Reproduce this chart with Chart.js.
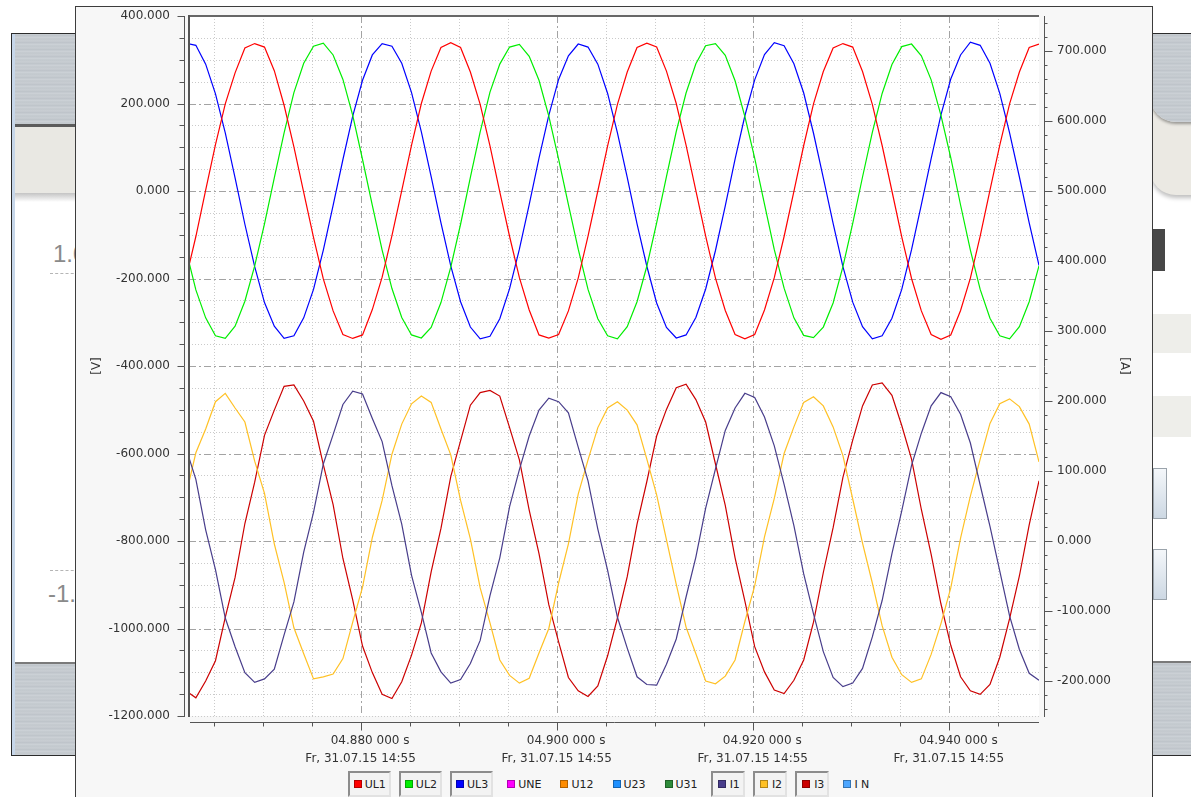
<!DOCTYPE html>
<html>
<head>
<meta charset="utf-8">
<title>Oszilloskop UL / I</title>
<script src="https://cdn.jsdelivr.net/npm/chart.js@4.4.1/dist/chart.umd.min.js"></script>
<style>
  html, body { margin: 0; padding: 0; }
  body { width: 1191px; height: 797px; overflow: hidden; background: #fff; position: relative; font-family: 'DejaVu Sans', sans-serif; }
  .metal { background: repeating-linear-gradient(180deg, #c8cdd2 0px, #bcc2c8 2px, #ced3d8 3px, #c2c8cd 5px, #c9ced3 7px); }
  #bgLeft { position: absolute; left: 11px; top: 33px; width: 90px; height: 721px; border: 1px solid #2b2b2b; background: #fff; overflow: hidden; }
  #bgRight { position: absolute; left: 1150px; top: 33px; width: 60px; height: 721px; border-top: 1px solid #2b2b2b; border-bottom: 1px solid #2b2b2b; background: #fff; overflow: hidden; }
  .abs { position: absolute; }
  .ghost { position: absolute; font: 24px 'Liberation Sans', sans-serif; color: #8a8a8a; }
  #panel { position: absolute; left: 75px; top: 6px; width: 1076px; height: 795px; border: 1px solid #3c3c3c; border-bottom: none; background: #f7f7f7; }
  #scope { position: absolute; left: 0; top: 0; }
  #legend { position: absolute; left: 0; top: 764px; width: 1070px; display: flex; justify-content: center; }
  .item { display: flex; align-items: center; height: 22px; padding: 0 3px 0 4px; border: 2px solid transparent; margin: 0 4px; font: 11px 'DejaVu Sans', sans-serif; color: #222; }
  .item.on { border-color: #8c8c8c #e2e2e2 #e2e2e2 #8c8c8c; background: #f3f3f3; }
  .item.short { padding: 0 3px 0 5px; }
  .sw { width: 6px; height: 6px; border: 1px solid rgba(0,0,0,0.3); margin-right: 3px; }
  .short .sw { margin-right: 4px; }
</style>
</head>
<body>

<div id="bgLeft">
  <div class="abs" style="left:0;top:0;width:3px;height:100%;background:#c6d6e9"></div>
  <div class="abs metal" style="left:3px;top:0;width:100%;height:90px"></div>
  <div class="abs" style="left:3px;top:90px;width:100%;height:3px;background:#5c5c5c"></div>
  <div class="abs" style="left:3px;top:93px;width:100%;height:66px;background:#e9e8e3"></div>
  <div class="abs" style="left:3px;top:159px;width:100%;height:9px;background:linear-gradient(#c4c4c4,#fff)"></div>
  <div class="ghost" style="left:41px;top:206px">1.0</div>
  <div class="abs" style="left:38px;top:239px;width:60px;border-top:1px dashed #b5b5b5"></div>
  <div class="abs" style="left:38px;top:536px;width:60px;border-top:1px dashed #b5b5b5"></div>
  <div class="ghost" style="left:36px;top:546px">-1.0</div>
  <div class="abs" style="left:3px;top:628px;width:100%;height:2px;background:#7a7a7a"></div>
  <div class="abs metal" style="left:3px;top:630px;width:100%;height:91px"></div>
</div>

<div id="bgRight">
  <div class="abs" style="left:0;top:0;width:100%;height:161px;background:#ebe9e3;border-bottom-left-radius:26px;box-shadow:0 3px 4px rgba(0,0,0,0.25)"></div>
  <div class="abs metal" style="left:0;top:0;width:100%;height:88px;border-bottom-left-radius:26px;box-shadow:0 2px 3px rgba(0,0,0,0.35)"></div>
  <div class="abs" style="left:3px;top:195px;width:12px;height:42px;background:#474747"></div>
  <div class="abs" style="left:0;top:280px;width:100%;height:39px;background:#eeeeea"></div>
  <div class="abs" style="left:0;top:362px;width:100%;height:41px;background:#eeeeea"></div>
  <div class="abs" style="left:3px;top:434px;width:12px;height:49px;border:1px solid #9aa3ab;background:linear-gradient(#f4f7fa,#cdd8e3)"></div>
  <div class="abs" style="left:3px;top:515px;width:12px;height:49px;border:1px solid #9aa3ab;background:linear-gradient(#f4f7fa,#cdd8e3)"></div>
  <div class="abs" style="left:0;top:627px;width:100%;height:2px;background:#7a7a7a"></div>
  <div class="abs metal" style="left:0;top:629px;width:100%;height:92px"></div>
</div>

<div id="panel">
  <canvas id="scope" width="1076" height="763"></canvas>
  <div id="legend"></div>
</div>

<script>
// sample clock: one reading per millisecond
const t0 = 4.8622;
const dt = 0.001;

// phase voltages [V]
const ul1 = [
  -199, -104, 2, 106, 199, 270, 327, 337, 329, 275,
  196, 101, -3, -106, -201, -274, -328, -337, -329, -271,
  -197, -102, 1, 105, 200, 274, 328, 339, 328, 272,
  198, 103, -2, -104, -198, -272, -329, -336, -328, -274,
  -199, -103, 0, 103, 198, 272, 328, 338, 329, 274,
  200, 105, 1, -103, -199, -273, -328, -338, -328, -272,
  -198, -104, -1, 104, 199, 273, 327, 337, 329, 273,
  198, 104, 0, -105, -200, -274, -328, -339, -329, -273,
  -199, -103, 2, 105, 199, 272, 328, 336, 329
];
const ul2 = [
  -136, -226, -290, -331, -337, -309, -252, -171, -75, 30,
  133, 225, 292, 331, 338, 311, 255, 173, 72, -33,
  -135, -223, -289, -329, -336, -312, -255, -174, -76, 31,
  135, 226, 290, 329, 335, 308, 253, 171, 73, -31,
  -133, -225, -292, -331, -338, -310, -253, -172, -73, 33,
  136, 224, 291, 332, 337, 310, 252, 170, 75, -30,
  -134, -222, -290, -330, -335, -311, -256, -173, -74, 32,
  134, 223, 289, 330, 336, 309, 254, 173, 76, -32,
  -135, -225, -291, -331, -338, -310, -253, -171, -75
];
const ul3 = [
  338, 333, 290, 222, 133, 30, -76, -173, -255, -309,
  -337, -331, -290, -225, -135, -33, 72, 171, 253, 311,
  337, 331, 292, 225, 135, 33, -73, -171, -253, -311,
  -338, -332, -292, -223, -133, -31, 75, 173, 255, 309,
  336, 329, 290, 223, 133, 31, -75, -172, -256, -312,
  -336, -329, -289, -224, -136, -34, 73, 172, 254, 312,
  339, 332, 291, 224, 132, 30, -74, -173, -254, -310,
  -338, -331, -291, -225, -134, -31, 74, 174, 256, 311,
  340, 333, 292, 223, 133, 32, -73, -170, -252
];

// phase currents [A]
const i1 = [
  132, 88, 16, -41, -110, -151, -188, -202, -197, -183,
  -134, -87, -16, 41, 110, 152, 195, 214, 210, 175,
  142, 79, 24, -49, -102, -160, -187, -203, -198, -175,
  -142, -78, -24, 49, 102, 150, 187, 204, 199, 183,
  134, 86, 17, -42, -109, -153, -194, -205, -206, -176,
  -140, -80, -23, 47, 103, 158, 190, 211, 205, 177,
  136, 81, 22, -47, -104, -158, -195, -208, -203, -182,
  -137, -85, -18, 43, 108, 154, 193, 212, 206, 181,
  140, 80, 21, -43, -107, -155, -189, -199, -194
];
const i2 = [
  66, 126, 160, 199, 211, 190, 170, 114, 68, -4,
  -59, -124, -161, -197, -194, -190, -168, -116, -66, 5,
  58, 124, 167, 196, 207, 198, 160, 123, 58, 3,
  -67, -117, -170, -192, -203, -196, -160, -125, -60, -4,
  67, 116, 162, 190, 199, 187, 166, 117, 66, 2,
  -62, -123, -161, -200, -204, -193, -170, -115, -64, 6,
  61, 125, 163, 198, 206, 193, 163, 122, 60, -3,
  -60, -121, -166, -191, -202, -197, -162, -118, -67, 4,
  64, 117, 168, 196, 203, 192, 167, 113, 66
];
const i3 = [
  -214, -224, -200, -171, -109, -52, 25, 84, 151, 187,
  221, 223, 200, 171, 109, 52, -25, -84, -150, -188,
  -219, -225, -201, -163, -117, -44, 18, 92, 143, 194,
  212, 215, 207, 162, 116, 44, -18, -91, -144, -195,
  -214, -222, -207, -164, -110, -51, 24, 85, 150, 188,
  219, 224, 202, 170, 110, 51, -24, -86, -151, -187,
  -213, -218, -199, -170, -116, -45, 19, 91, 144, 193,
  223, 226, 208, 165, 117, 45, -19, -90, -149, -194,
  -214, -219, -205, -166, -111, -50, 23, 86, 148
];

const times = ul1.map((_, k) => +(t0 + k * dt).toFixed(4));

// axis labels
const voltTicks = [400, 200, 0, -200, -400, -600, -800, -1000, -1200];
const ampTicks = [700, 600, 500, 400, 300, 200, 100, 0, -100, -200];
const timeTicks = [4.88, 4.90, 4.92, 4.94];
const timeLabels = [
  ['     04.880 000 s', 'Fr, 31.07.15 14:55'],
  ['     04.900 000 s', 'Fr, 31.07.15 14:55'],
  ['     04.920 000 s', 'Fr, 31.07.15 14:55'],
  ['     04.940 000 s', 'Fr, 31.07.15 14:55']
];

// legend
const legendNames = ['UL1', 'UL2', 'UL3', 'UNE', 'U12', 'U23', 'U31', 'I1', 'I2', 'I3', 'I N'];
const legendColors = ['#ff0000', '#00ee00', '#0000ff', '#ff00ff', '#ff8c00', '#1e90ff', '#2e8b3a', '#483d8b', '#ffc125', '#cc0000', '#4da6ff'];
const legendActive = [true, true, true, false, false, false, false, true, true, true, false];

const labelFont = { family: 'DejaVu Sans', size: 12 };

function pts(values) {
    return values.map((v, k) => ({ x: times[k], y: v }));
}

function trace(name, values, axis) {
    const color = legendColors[legendNames.indexOf(name)];
    return {
        label: name,
        data: pts(values),
        yAxisID: axis,
        borderColor: color,
        backgroundColor: color,
        borderWidth: 1.2,
        pointRadius: 0,
        tension: 0
    };
}

// value axes: fixed width, no extra room above/below for the end labels
function fixVertical(s) {
    s.width = 113;
    s.paddingTop = 8;
    s.paddingBottom = 8;
}

// grid, frame and axis lines the way the scope draws them
const scopeFrame = {
    id: 'scopeFrame',
    beforeDraw(chart) {
        const { ctx, chartArea: a } = chart;
        ctx.save();
        ctx.fillStyle = '#ffffff';
        ctx.fillRect(a.left, a.top, a.right - a.left, a.bottom - a.top);
        ctx.restore();
    },
    beforeDatasetsDraw(chart) {
        const { ctx, chartArea: a, scales } = chart;
        ctx.save();
        ctx.lineWidth = 1;
        for (let v = -1200; v < 400; v += 50) {
            const y = Math.round(scales.yV.getPixelForValue(v)) + 0.5;
            const major = v % 200 === 0 && v !== -1200;
            ctx.setLineDash(major ? [7, 3, 2, 3] : [1, 2]);
            ctx.strokeStyle = major ? '#a3a3a3' : '#cacaca';
            ctx.beginPath();
            ctx.moveTo(a.left, y);
            ctx.lineTo(a.right, y);
            ctx.stroke();
        }
        for (let ms = 4865; ms < 4950; ms += 5) {
            const x = Math.round(scales.x.getPixelForValue(ms / 1000)) + 0.5;
            if (x > a.right) break;
            const major = ms % 20 === 0;
            ctx.setLineDash(major ? [7, 3, 2, 3] : [1, 2]);
            ctx.strokeStyle = major ? '#a3a3a3' : '#cacaca';
            ctx.beginPath();
            ctx.moveTo(x, a.top);
            ctx.lineTo(x, a.bottom);
            ctx.stroke();
        }
        ctx.restore();
    },
    afterDatasetsDraw(chart) {
        const { ctx, chartArea: a, scales } = chart;
        ctx.save();
        // plot frame (top + left)
        ctx.fillStyle = '#676767';
        ctx.fillRect(a.left, a.top - 1, a.right - a.left, 2);
        ctx.fillStyle = '#555';
        ctx.fillRect(a.left - 1, a.top - 1, 2, a.bottom - a.top + 2);

        ctx.strokeStyle = '#555';
        ctx.lineWidth = 1;
        ctx.beginPath();
        // left axis [V]
        const xl = a.left - 4.5;
        ctx.moveTo(xl, a.top);
        ctx.lineTo(xl, a.bottom + 1);
        for (let v = -1200; v <= 400; v += 50) {
            const y = Math.round(scales.yV.getPixelForValue(v)) + 0.5;
            ctx.moveTo(xl - (v % 200 === 0 ? 7 : 5), y);
            ctx.lineTo(xl, y);
        }
        // right axis [A]
        const xr = a.right + 5.5;
        ctx.moveTo(xr, a.top);
        ctx.lineTo(xr, a.bottom + 1);
        for (let v = -240; v <= 740; v += 20) {
            const y = Math.round(scales.yA.getPixelForValue(v)) + 0.5;
            ctx.moveTo(xr, y);
            ctx.lineTo(xr + (v % 100 === 0 ? 8 : 3), y);
        }
        // time axis
        const yb = a.bottom + 6.5;
        ctx.moveTo(a.left + 1, yb);
        ctx.lineTo(a.right, yb);
        for (let ms = 4865; ms < 4950; ms += 5) {
            const x = Math.round(scales.x.getPixelForValue(ms / 1000)) + 0.5;
            if (x > a.right) break;
            ctx.moveTo(x, yb);
            ctx.lineTo(x, yb + (ms % 20 === 0 ? 8 : 4));
        }
        ctx.stroke();
        ctx.restore();
    }
};

new Chart(document.getElementById('scope'), {
    type: 'line',
    data: {
        datasets: [
            trace('UL1', ul1, 'yV'),
            trace('UL2', ul2, 'yV'),
            trace('UL3', ul3, 'yV'),
            trace('I1', i1, 'yA'),
            trace('I2', i2, 'yA'),
            trace('I3', i3, 'yA')
        ]
    },
    options: {
        responsive: false,
        animation: false,
        events: [],
        layout: { padding: { top: 9, left: 0, right: 0, bottom: 0 } },
        plugins: { legend: { display: false }, tooltip: { enabled: false } },
        scales: {
            x: {
                type: 'linear',
                min: 4.8625,
                max: 4.9492,
                afterBuildTicks: s => { s.ticks = timeTicks.map(v => ({ value: v })); },
                afterFit: s => { s.height = 54; },
                grid: { display: false, drawTicks: false },
                border: { display: false },
                ticks: {
                    autoSkip: false,
                    maxRotation: 0,
                    padding: 16,
                    color: '#333',
                    font: { family: 'DejaVu Sans', size: 12, lineHeight: 1.5 },
                    callback: (v, i) => timeLabels[i]
                }
            },
            yV: {
                type: 'linear',
                position: 'left',
                min: -1200,
                max: 400,
                afterBuildTicks: s => { s.ticks = voltTicks.map(v => ({ value: v })); },
                afterFit: fixVertical,
                grid: { display: false, drawTicks: false },
                border: { display: false },
                ticks: { padding: 19, color: '#333', font: labelFont, callback: v => v.toFixed(3) },
                title: { display: true, text: '[V]', color: '#333', font: labelFont, padding: { top: 14 } }
            },
            yA: {
                type: 'linear',
                position: 'right',
                min: -250,
                max: 750,
                afterBuildTicks: s => { s.ticks = ampTicks.map(v => ({ value: v })); },
                afterFit: fixVertical,
                grid: { display: false, drawTicks: false },
                border: { display: false },
                ticks: { padding: 18, color: '#333', font: labelFont, callback: v => v.toFixed(3) },
                title: { display: true, text: '[A]', color: '#333', font: labelFont, padding: { top: 21 } }
            }
        }
    },
    plugins: [scopeFrame]
});

// button-style legend under the plot
const legend = document.getElementById('legend');
legendNames.forEach((name, i) => {
    const item = document.createElement('div');
    item.className = 'item' + (legendActive[i] ? ' on' : '') + (name.length < 3 ? ' short' : '');
    const sw = document.createElement('span');
    sw.className = 'sw';
    sw.style.background = legendColors[i];
    item.appendChild(sw);
    item.appendChild(document.createTextNode(name));
    legend.appendChild(item);
});
</script>
</body>
</html>
